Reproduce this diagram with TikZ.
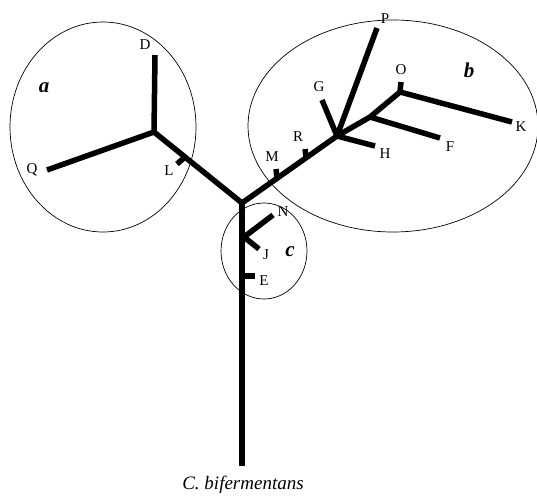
\documentclass[tikz,border=0pt]{standalone}
\usepackage{fontspec}
\setmainfont{Liberation Serif}
\usetikzlibrary{positioning}

\begin{document}
\begin{tikzpicture}[x=1pt, y=-1pt,
    branch/.style={line width=5.5pt, line join=round},
    clade/.style={line width=0.7pt},
    taxon/.style={font=\fontsize{15}{17}\selectfont, inner sep=0pt},
    groupname/.style={font=\fontsize{21}{23}\selectfont\bfseries\itshape, inner sep=0pt}]
  \useasboundingbox (0,0) rectangle (537,497);

  % Junctions of the tree
  \coordinate (root) at (242,203);
  \coordinate (ja) at (154,132);
  \coordinate (jb) at (337,136);
  \coordinate (jf) at (370,117);
  \coordinate (jo) at (400,92);
  \coordinate (base) at (242,466);

  % Branch tips
  \coordinate (tD) at (155,55);
  \coordinate (tQ) at (47,170);
  \coordinate (sL) at (185,157);
  \coordinate (tL) at (177,164);
  \coordinate (sM) at (277,178);
  \coordinate (tM) at (276,169);
  \coordinate (sR) at (306,157);
  \coordinate (tR) at (305,149);
  \coordinate (tP) at (377,28);
  \coordinate (tG) at (322,100);
  \coordinate (tH) at (375,146);
  \coordinate (tF) at (440,138);
  \coordinate (tO) at (401,82);
  \coordinate (tK) at (512,122);
  \coordinate (sN) at (244,237);
  \coordinate (tN) at (273,215);
  \coordinate (tJ) at (259,249);
  \coordinate (sE) at (242,276);
  \coordinate (tE) at (255,276);

  % Clade outlines
  \draw[clade] (103,127) ellipse [x radius=93, y radius=105];
  \draw[clade] (393,126) ellipse [x radius=145, y radius=106];
  \draw[clade] (264,251) ellipse [x radius=43, y radius=48];

  % Main branches
  \draw[branch] (base) -- (root);
  \draw[branch] (root) -- (ja);
  \draw[branch] (root) -- (jb) -- (jf) -- (jo);

  % Clade a
  \draw[branch] (ja) -- (tD);
  \draw[branch] (ja) -- (tQ);
  \draw[branch] (sL) -- (tL);

  % Clade b
  \draw[branch] (sM) -- (tM);
  \draw[branch] (sR) -- (tR);
  \draw[branch] (jb) -- (tP);
  \draw[branch] (jb) -- (tG);
  \draw[branch] (jb) -- (tH);
  \draw[branch] (jf) -- (tF);
  \draw[branch] (jo) -- (tO);
  \draw[branch] (jo) -- (tK);

  % Clade c
  \draw[branch] (sN) -- (tN);
  \draw[branch] (sN) -- (tJ);
  \draw[branch] (sE) -- (tE);

  % Taxon labels
  \node[taxon] (lD) at (145,45) {D};
  \node[taxon] (lQ) at (32,170) {Q};
  \node[taxon] (lL) at (169,171) {L};
  \node[taxon] (lM) at (272,157) {M};
  \node[taxon] (lR) at (298,137) {R};
  \node[taxon] (lG) at (319,87) {G};
  \node[taxon] (lP) at (385,19) {P};
  \node[taxon] (lH) at (385,154) {H};
  \node[taxon] (lF) at (450,147) {F};
  \node[taxon] (lO) at (401,70) {O};
  \node[taxon] (lK) at (521,127) {K};
  \node[taxon] (lN) at (283,212) {N};
  \node[taxon] (lJ) at (266,255) {J};
  \node[taxon] (lE) at (264,281) {E};

  % Group names
  \node[groupname] (ga) at (44,88) {a};
  \node[groupname] (gb) at (469,70) {b};
  \node[groupname] (gc) at (290,252) {c};

  % Root taxon
  \node[font=\fontsize{19}{21}\selectfont\itshape] (cb) at (243,485) {C. bifermentans};
\end{tikzpicture}
\end{document}
